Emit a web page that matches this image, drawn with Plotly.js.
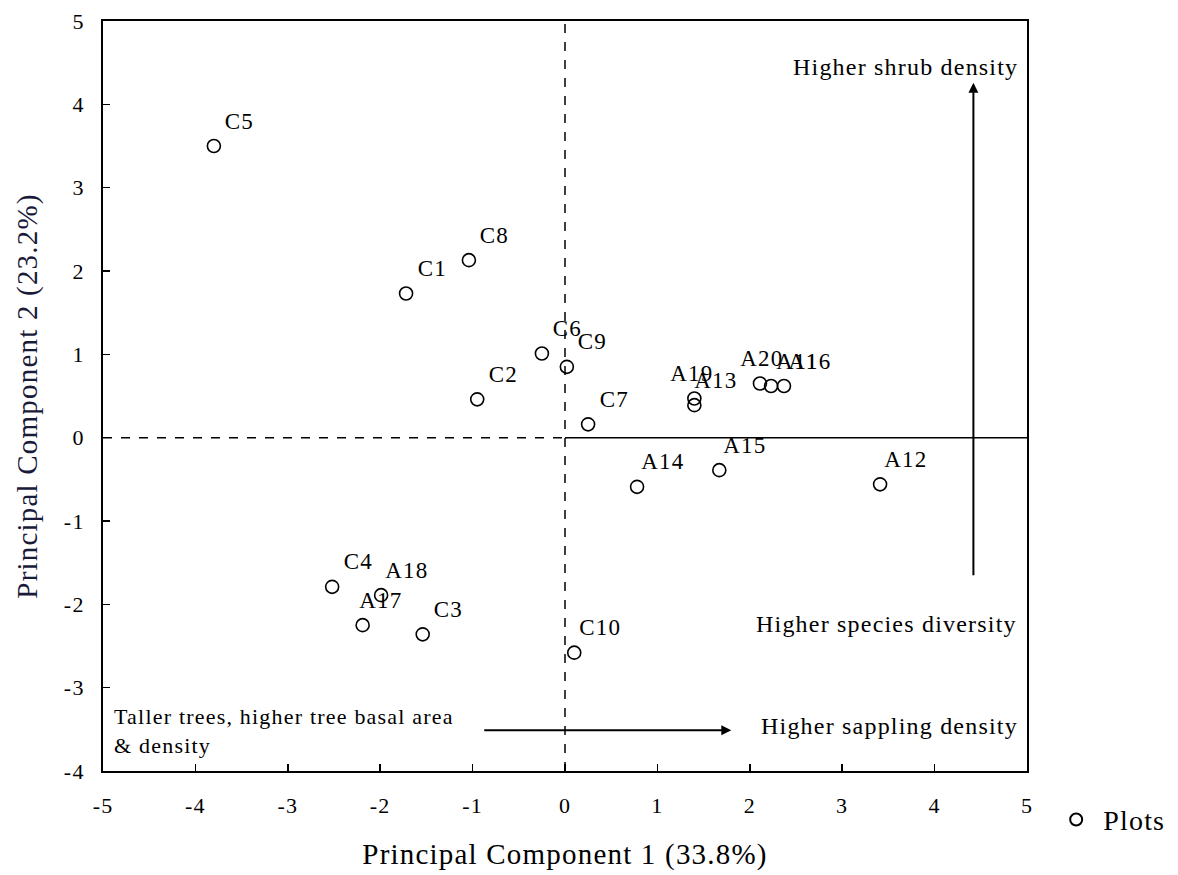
<!DOCTYPE html>
<html>
<head>
<meta charset="utf-8">
<script src="https://cdn.plot.ly/plotly-3.0.1.min.js"></script>
<style>
html, body { margin: 0; padding: 0; background: #fff; }
#chart { width: 1178px; height: 875px; }
#chart svg text { letter-spacing: 1.2px; }
</style>
</head>
<body>
<div id="chart"></div>
<script>
// ---- data ----
var plotLabels = ["C5","C8","C1","C6","C9","C2","C7","A19","A13","A20","A11","A16","A14","A15","A12","C4","A18","A17","C3","C10"];
var pc1 = [-3.80,-1.04,-1.72,-0.25,0.02,-0.95,0.25,1.40,1.40,2.11,2.23,2.37,0.78,1.67,3.41,-2.52,-1.99,-2.19,-1.54,0.10];
var pc2 = [3.50,2.13,1.73,1.01,0.85,0.46,0.16,0.47,0.39,0.65,0.62,0.62,-0.59,-0.39,-0.56,-1.79,-1.89,-2.25,-2.36,-2.58];
var xTicks = [-5,-4,-3,-2,-1,0,1,2,3,4,5];
var yTicks = [-4,-3,-2,-1,0,1,2,3,4,5];
var xTitle = "Principal Component 1 (33.8%)";
var yTitle = "Principal Component 2 (23.2%)";
var seriesName = "Plots";

// ---- style ----
var FONT = "Liberation Serif, Times New Roman, serif";
var labelNudge = { "A20": -24, "A19": -28, "A17": -8, "A13": -4 };

var trace = {
  x: pc1, y: pc2, mode: "markers", type: "scatter", name: seriesName,
  marker: { symbol: "circle-open", size: 13, color: "#000", line: { width: 1.6, color: "#000" } },
  hoverinfo: "skip", showlegend: true
};

var annotations = plotLabels.map(function (t, i) {
  return {
    x: pc1[i], y: pc2[i], xref: "x", yref: "y", text: t, showarrow: false,
    xanchor: "center", yanchor: "middle",
    xshift: 26 + (labelNudge[t] || 0), yshift: 25,
    font: { family: FONT, size: 23, color: "#000" }
  };
});

// arrows
annotations.push({
  x: 4.42, y: 4.26, ax: 4.42, ay: -1.67, xref: "x", yref: "y", axref: "x", ayref: "y",
  text: "", showarrow: true, arrowhead: 2, arrowsize: 1, arrowwidth: 2, arrowcolor: "#000"
});
annotations.push({
  x: 1.80, y: -3.51, ax: -0.89, ay: -3.51, xref: "x", yref: "y", axref: "x", ayref: "y",
  text: "", showarrow: true, arrowhead: 2, arrowsize: 1, arrowwidth: 2, arrowcolor: "#000"
});

// descriptive texts
var descTexts = [
  { x: 3.56, y: 4.45, text: "Higher shrub density", xanchor: "center", size: 24 },
  { x: 3.32, y: -2.23, text: "Higher species diversity", xanchor: "center", size: 24 },
  { x: 3.36, y: -3.46, text: "Higher sappling density", xanchor: "center", size: 24 },
  { x: -4.90, y: -3.52, text: "Taller trees, higher tree basal area<br>& density", xanchor: "left", size: 22 }
];
descTexts.forEach(function (d) {
  annotations.push({
    x: d.x, y: d.y, xref: "x", yref: "y", text: d.text, showarrow: false,
    xanchor: d.xanchor, yanchor: "middle", align: "left",
    font: { family: FONT, size: d.size, color: "#000" }
  });
});

var shapes = [
  { type: "line", xref: "x", yref: "y", x0: 0, x1: 0, y0: -4, y1: 5,
    line: { color: "#000", width: 1.5, dash: "dash" } },
  { type: "line", xref: "x", yref: "y", x0: -5, x1: 0, y0: 0, y1: 0,
    line: { color: "#000", width: 1.5, dash: "dash" } },
  { type: "line", xref: "x", yref: "y", x0: 0, x1: 5, y0: 0, y1: 0,
    line: { color: "#000", width: 1.5 } }
];

var layout = {
  width: 1178, height: 875,
  margin: { l: 103, r: 151, t: 21, b: 104, pad: 0 },
  paper_bgcolor: "#fff", plot_bgcolor: "#fff",
  font: { family: FONT, color: "#000", size: 22 },
  xaxis: {
    range: [-5, 5], tickmode: "array", tickvals: xTicks, ticktext: xTicks.map(String),
    ticks: "inside", ticklen: 7, tickwidth: 1.5, tickcolor: "#000",
    showline: true, linecolor: "#000", linewidth: 2, mirror: true,
    showgrid: false, zeroline: false, ticklabelstandoff: 14,
    tickfont: { family: FONT, size: 22, color: "#000" },
    title: { text: xTitle, font: { family: FONT, size: 29, color: "#000" }, standoff: 26 }
  },
  yaxis: {
    range: [-4, 5], tickmode: "array", tickvals: yTicks, ticktext: yTicks.map(String),
    ticks: "inside", ticklen: 7, tickwidth: 1.5, tickcolor: "#000",
    showline: true, linecolor: "#000", linewidth: 2, mirror: true,
    showgrid: false, zeroline: false, ticklabelstandoff: 12,
    tickfont: { family: FONT, size: 22, color: "#000" },
    title: { text: yTitle, font: { family: FONT, size: 29, color: "#1a1a3a" }, standoff: 20 }
  },
  showlegend: true,
  legend: {
    x: 1.024, y: -0.065, xanchor: "left", yanchor: "middle",
    font: { family: FONT, size: 28, color: "#000" }, bgcolor: "rgba(0,0,0,0)",
    itemsizing: "constant", itemwidth: 44
  },
  shapes: shapes,
  annotations: annotations
};

Plotly.newPlot("chart", [trace], layout, { displayModeBar: false, staticPlot: true });
</script>
</body>
</html>
